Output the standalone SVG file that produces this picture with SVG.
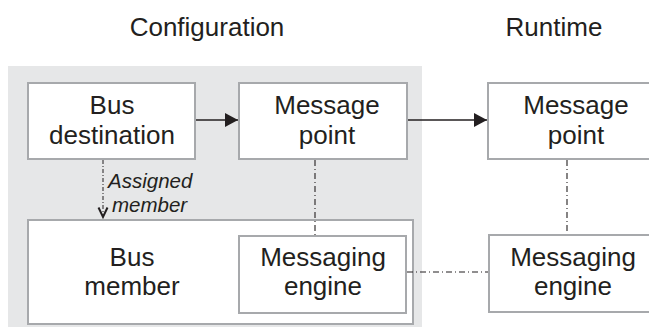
<svg xmlns="http://www.w3.org/2000/svg" width="649" height="327" viewBox="0 0 649 327">
<style>
.box{fill:#ffffff;stroke:#a7a9ac;stroke-width:2}
.t{font-family:"Liberation Sans",Arial,sans-serif;font-size:26px;fill:#231f20;text-anchor:middle}
.h{font-family:"Liberation Sans",Arial,sans-serif;font-size:26px;fill:#231f20;text-anchor:middle}
.lbl{font-family:"Liberation Sans",Arial,sans-serif;font-size:20.5px;font-style:italic;fill:#231f20}
.arrow{stroke:#231f20;stroke-width:1.3;fill:none}
.dd{stroke:#231f20;stroke-width:1.1;fill:none;stroke-dasharray:6 3 1 3}
</style>
<defs>
<marker id="tri" markerWidth="14" markerHeight="14" refX="13" refY="7" orient="auto" markerUnits="userSpaceOnUse">
<path d="M0,0 L13,7 L0,14 Z" fill="#231f20"/>
</marker>
</defs>
<rect x="8" y="66" width="414" height="270" fill="#e6e7e8"/>
<text class="h" x="207" y="36">Configuration</text>
<text class="h" x="554" y="36">Runtime</text>
<g id="bus-member">
<rect class="box" x="28" y="220" width="385" height="104"/>
<text class="t" x="132" y="266">Bus</text>
<text class="t" x="132" y="295">member</text>
</g>
<g id="bus-destination">
<rect class="box" x="28" y="83" width="167" height="76"/>
<text class="t" x="112" y="114">Bus</text>
<text class="t" x="112" y="144">destination</text>
</g>
<g id="config-message-point">
<rect class="box" x="239" y="83" width="168" height="76"/>
<text class="t" x="327" y="114">Message</text>
<text class="t" x="327" y="144">point</text>
</g>
<g id="config-messaging-engine">
<rect class="box" x="239" y="236" width="167" height="77"/>
<text class="t" x="323" y="266">Messaging</text>
<text class="t" x="323" y="295">engine</text>
</g>
<g id="runtime-message-point">
<rect class="box" x="488" y="83" width="168" height="76"/>
<text class="t" x="576" y="114">Message</text>
<text class="t" x="576" y="144">point</text>
</g>
<g id="runtime-messaging-engine">
<rect class="box" x="489" y="235" width="167" height="77"/>
<text class="t" x="573" y="266">Messaging</text>
<text class="t" x="573" y="295">engine</text>
</g>
<g id="connectors">
<line class="arrow" x1="196" y1="120" x2="238" y2="120" marker-end="url(#tri)"/>
<line class="arrow" x1="408" y1="120" x2="487" y2="120" marker-end="url(#tri)"/>
<line class="dd" x1="315" y1="160" x2="315" y2="235"/>
<line class="dd" x1="567" y1="160" x2="567" y2="234"/>
<line class="dd" x1="407" y1="272" x2="488" y2="272"/>
<line x1="103" y1="160" x2="103" y2="216" stroke="#231f20" stroke-width="1" stroke-dasharray="4 2 1 2"/>
<path d="M98.5,207.5 L103,217 L107.5,207.5" fill="none" stroke="#231f20" stroke-width="2"/>
<text class="lbl" x="108" y="188">Assigned</text>
<text class="lbl" x="112" y="212">member</text>
</g>
</svg>
